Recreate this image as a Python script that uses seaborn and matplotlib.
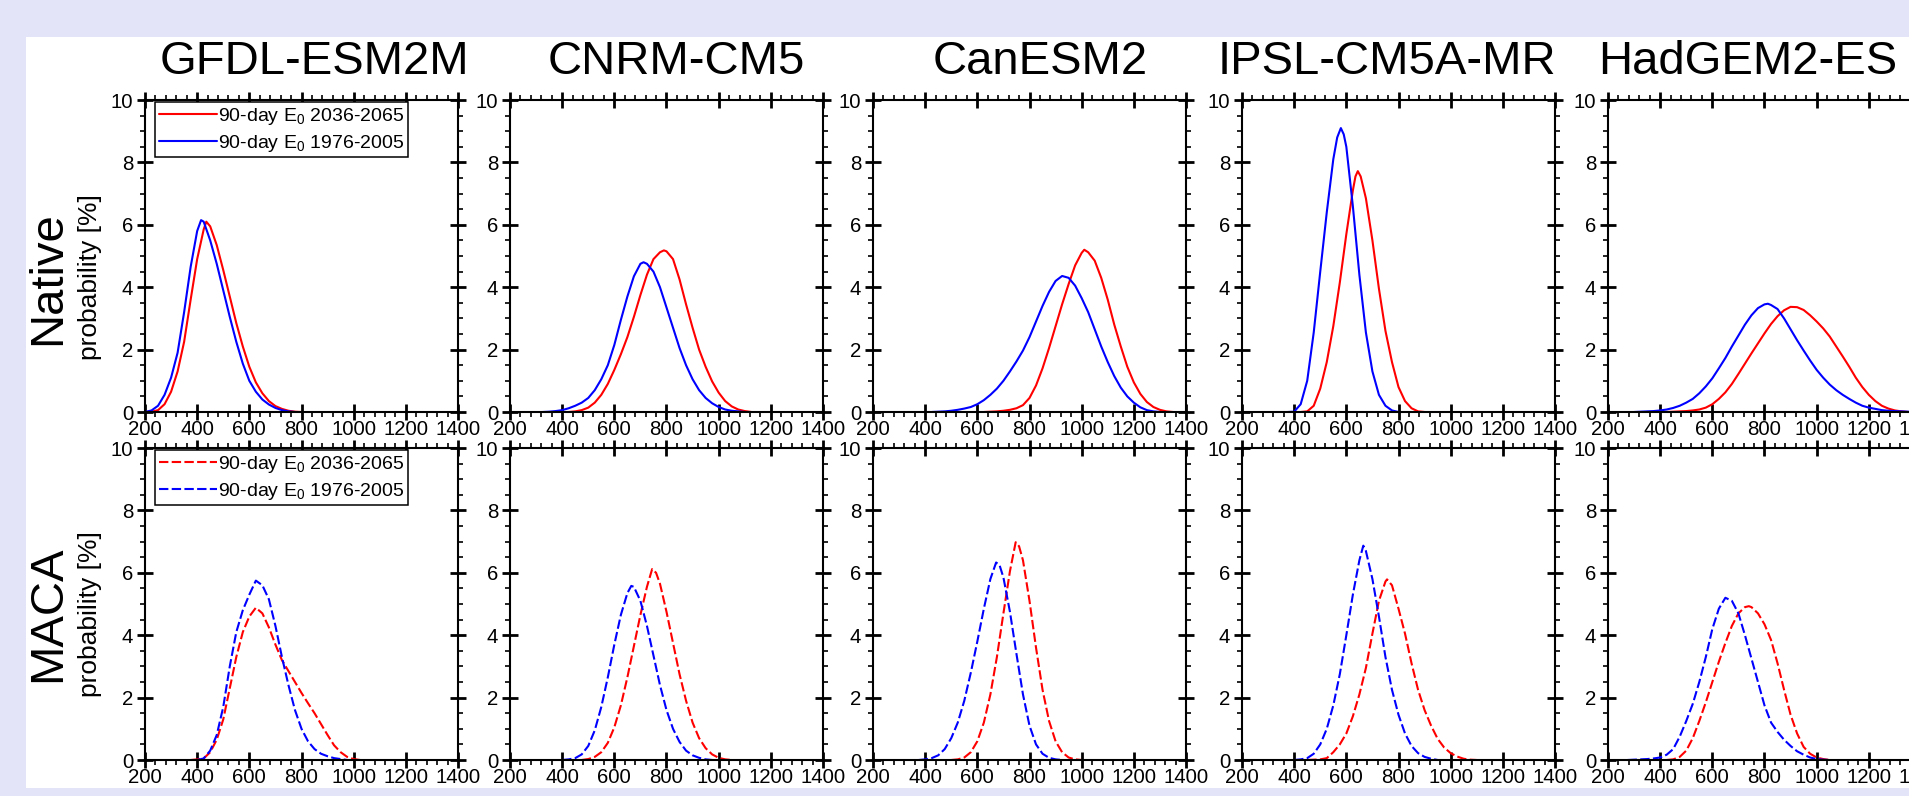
import matplotlib
matplotlib.use("Agg")
import matplotlib.pyplot as plt
from matplotlib.ticker import MultipleLocator
from matplotlib.patches import Rectangle
import pandas as pd
import seaborn as sns

# ---- data (E0 in mm, probability in %) ----
models = ["GFDL-ESM2M", "CNRM-CM5", "CanESM2", "IPSL-CM5A-MR", "HadGEM2-ES"]
rows = ["Native", "MACA"]
periods = ["2036-2065", "1976-2005"]

# GFDL-ESM2M
gfdl_nat_fut_x = [200, 225, 250, 275, 300, 325, 350, 375, 400, 425, 435, 450, 475, 500, 525, 550, 575, 600, 625, 650, 675, 700, 725, 750, 775, 800]
gfdl_nat_fut_y = [0.0, 0.01, 0.06, 0.25, 0.65, 1.3, 2.25, 3.6, 4.9, 5.85, 6.1, 5.95, 5.35, 4.55, 3.7, 2.85, 2.1, 1.45, 0.95, 0.6, 0.35, 0.19, 0.1, 0.04, 0.01, 0.0]
gfdl_nat_hist_x = [200, 225, 250, 275, 300, 325, 350, 375, 400, 415, 425, 450, 475, 500, 525, 550, 575, 600, 625, 650, 675, 700, 725, 750, 775]
gfdl_nat_hist_y = [0.0, 0.05, 0.2, 0.55, 1.1, 1.9, 3.2, 4.65, 5.8, 6.15, 6.1, 5.5, 4.75, 3.9, 3.05, 2.25, 1.55, 1.0, 0.65, 0.4, 0.24, 0.13, 0.06, 0.02, 0.0]
gfdl_maca_fut_x = [375, 400, 425, 450, 475, 500, 525, 550, 575, 600, 625, 650, 675, 700, 725, 750, 775, 800, 825, 850, 875, 900, 925, 950, 975, 1000, 1025]
gfdl_maca_fut_y = [0.0, 0.02, 0.05, 0.25, 0.65, 1.3, 2.3, 3.3, 4.1, 4.6, 4.88, 4.7, 4.25, 3.7, 3.2, 2.85, 2.5, 2.15, 1.82, 1.5, 1.15, 0.8, 0.47, 0.25, 0.1, 0.03, 0.0]
gfdl_maca_hist_x = [400, 425, 450, 475, 500, 525, 550, 575, 600, 625, 650, 675, 700, 725, 750, 775, 800, 825, 850, 875, 900, 925, 950, 975]
gfdl_maca_hist_y = [0.0, 0.05, 0.3, 0.8, 1.7, 3.0, 4.1, 4.8, 5.3, 5.75, 5.6, 5.15, 4.3, 3.3, 2.4, 1.6, 1.0, 0.6, 0.35, 0.2, 0.12, 0.06, 0.03, 0.0]

# CNRM-CM5
cnrm_nat_fut_x = [425, 450, 475, 500, 525, 550, 575, 600, 625, 650, 675, 700, 725, 750, 775, 790, 800, 825, 850, 875, 900, 925, 950, 975, 1000, 1025, 1050, 1075, 1100, 1125]
cnrm_nat_fut_y = [0.0, 0.02, 0.06, 0.14, 0.3, 0.55, 0.9, 1.35, 1.85, 2.4, 3.05, 3.75, 4.4, 4.9, 5.12, 5.18, 5.15, 4.9, 4.25, 3.45, 2.7, 2.0, 1.45, 0.98, 0.62, 0.35, 0.18, 0.08, 0.03, 0.0]
cnrm_nat_hist_x = [325, 350, 375, 400, 425, 450, 475, 500, 525, 550, 575, 600, 625, 650, 675, 700, 712, 725, 750, 775, 800, 825, 850, 875, 900, 925, 950, 975, 1000, 1025, 1050, 1075, 1100]
cnrm_nat_hist_y = [0.0, 0.01, 0.03, 0.06, 0.12, 0.2, 0.3, 0.45, 0.7, 1.05, 1.5, 2.15, 2.95, 3.7, 4.35, 4.75, 4.8, 4.75, 4.5, 4.0, 3.35, 2.7, 2.05, 1.5, 1.05, 0.7, 0.45, 0.28, 0.16, 0.08, 0.04, 0.02, 0.0]
cnrm_maca_fut_x = [475, 500, 525, 550, 575, 600, 625, 650, 675, 700, 725, 745, 760, 775, 800, 825, 850, 875, 900, 925, 950, 975, 1000, 1025, 1050]
cnrm_maca_fut_y = [0.0, 0.03, 0.1, 0.25, 0.55, 1.05, 1.75, 2.65, 3.65, 4.65, 5.55, 6.12, 6.0, 5.65, 4.75, 3.75, 2.75, 1.9, 1.2, 0.7, 0.38, 0.18, 0.07, 0.02, 0.0]
cnrm_maca_hist_x = [400, 425, 450, 475, 500, 525, 550, 575, 600, 625, 650, 665, 675, 700, 725, 750, 775, 800, 825, 850, 875, 900, 925, 950, 975]
cnrm_maca_hist_y = [0.0, 0.02, 0.06, 0.18, 0.45, 0.95, 1.7, 2.65, 3.7, 4.65, 5.35, 5.58, 5.55, 5.1, 4.3, 3.35, 2.4, 1.6, 1.0, 0.58, 0.3, 0.15, 0.07, 0.02, 0.0]

# CanESM2
can_nat_fut_x = [625, 650, 675, 700, 725, 750, 775, 800, 825, 850, 875, 900, 925, 950, 975, 1000, 1010, 1025, 1050, 1075, 1100, 1125, 1150, 1175, 1200, 1225, 1250, 1275, 1300, 1325, 1350]
can_nat_fut_y = [0.0, 0.01, 0.02, 0.04, 0.07, 0.12, 0.22, 0.45, 0.85, 1.4, 2.05, 2.75, 3.45, 4.1, 4.7, 5.1, 5.2, 5.12, 4.85, 4.3, 3.6, 2.8, 2.1, 1.45, 0.95, 0.58, 0.32, 0.16, 0.07, 0.02, 0.0]
can_nat_hist_x = [425, 450, 475, 500, 525, 550, 575, 600, 625, 650, 675, 700, 725, 750, 775, 800, 825, 850, 875, 900, 925, 950, 975, 1000, 1025, 1050, 1075, 1100, 1125, 1150, 1175, 1200, 1225, 1250, 1275, 1300]
can_nat_hist_y = [0.0, 0.01, 0.02, 0.04, 0.07, 0.11, 0.16, 0.25, 0.38, 0.55, 0.75, 1.0, 1.3, 1.62, 1.97, 2.4, 2.9, 3.4, 3.85, 4.2, 4.36, 4.3, 4.05, 3.65, 3.2, 2.65, 2.1, 1.6, 1.15, 0.78, 0.5, 0.3, 0.15, 0.06, 0.02, 0.0]
can_maca_fut_x = [500, 525, 550, 575, 600, 625, 650, 675, 700, 725, 747, 760, 775, 800, 825, 850, 875, 900, 925, 950, 975, 1000]
can_maca_fut_y = [0.0, 0.02, 0.08, 0.25, 0.6, 1.2, 2.1, 3.3, 4.7, 6.05, 6.98, 6.85, 6.4, 5.1, 3.6, 2.25, 1.25, 0.6, 0.25, 0.08, 0.02, 0.0]
can_maca_hist_x = [375, 400, 425, 450, 475, 500, 525, 550, 575, 600, 625, 650, 672, 685, 700, 725, 750, 775, 800, 825, 850, 875, 900, 925]
can_maca_hist_y = [0.0, 0.02, 0.06, 0.15, 0.35, 0.7, 1.2, 1.9, 2.8, 3.8, 4.85, 5.8, 6.33, 6.25, 5.85, 4.75, 3.4, 2.1, 1.1, 0.5, 0.2, 0.07, 0.02, 0.0]

# IPSL-CM5A-MR
ipsl_nat_fut_x = [425, 450, 475, 500, 525, 550, 575, 600, 625, 635, 644, 655, 675, 700, 725, 750, 775, 800, 825, 850, 875, 900]
ipsl_nat_fut_y = [0.0, 0.02, 0.2, 0.75, 1.6, 2.75, 4.15, 5.7, 7.1, 7.55, 7.72, 7.55, 6.85, 5.5, 3.95, 2.6, 1.6, 0.8, 0.35, 0.12, 0.02, 0.0]
ipsl_nat_hist_x = [375, 400, 425, 450, 475, 500, 525, 550, 565, 579, 590, 600, 625, 650, 675, 700, 725, 750, 775, 800]
ipsl_nat_hist_y = [0.0, 0.01, 0.25, 1.0, 2.55, 4.5, 6.4, 8.1, 8.8, 9.1, 8.9, 8.5, 6.6, 4.4, 2.55, 1.3, 0.55, 0.2, 0.05, 0.0]
ipsl_maca_fut_x = [450, 475, 500, 525, 550, 575, 600, 625, 650, 675, 700, 725, 750, 756, 775, 800, 825, 850, 875, 900, 925, 950, 975, 1000, 1025, 1050, 1075, 1100]
ipsl_maca_fut_y = [0.0, 0.01, 0.02, 0.06, 0.25, 0.5, 0.85, 1.4, 2.1, 2.95, 4.05, 5.1, 5.72, 5.79, 5.6, 4.85, 4.05, 3.1, 2.25, 1.6, 1.1, 0.68, 0.4, 0.22, 0.11, 0.04, 0.01, 0.0]
ipsl_maca_hist_x = [400, 425, 450, 475, 500, 525, 550, 575, 600, 625, 650, 665, 675, 700, 725, 750, 775, 800, 825, 850, 875, 900, 925, 950]
ipsl_maca_hist_y = [0.0, 0.02, 0.06, 0.2, 0.5, 1.0, 1.75, 2.75, 4.0, 5.3, 6.4, 6.87, 6.7, 5.8, 4.6, 3.3, 2.25, 1.45, 0.85, 0.45, 0.22, 0.1, 0.04, 0.0]

# HadGEM2-ES
had_nat_fut_x = [425, 450, 475, 500, 525, 550, 575, 600, 625, 650, 675, 700, 725, 750, 775, 800, 825, 850, 875, 900, 925, 950, 975, 1000, 1025, 1050, 1075, 1100, 1125, 1150, 1175, 1200, 1225, 1250, 1275, 1300, 1325, 1350]
had_nat_fut_y = [0.0, 0.01, 0.02, 0.03, 0.05, 0.08, 0.14, 0.25, 0.42, 0.63, 0.9, 1.22, 1.55, 1.88, 2.2, 2.52, 2.82, 3.07, 3.26, 3.37, 3.36, 3.27, 3.1, 2.9, 2.68, 2.42, 2.1, 1.78, 1.45, 1.1, 0.8, 0.55, 0.35, 0.2, 0.11, 0.05, 0.02, 0.0]
had_nat_hist_x = [300, 325, 350, 375, 400, 425, 450, 475, 500, 525, 550, 575, 600, 625, 650, 675, 700, 725, 750, 775, 800, 813, 825, 850, 875, 900, 925, 950, 975, 1000, 1025, 1050, 1075, 1100, 1125, 1150, 1175, 1200, 1225, 1250, 1275, 1300, 1325, 1350, 1375]
had_nat_hist_y = [0.0, 0.01, 0.02, 0.03, 0.05, 0.08, 0.13, 0.2, 0.3, 0.42, 0.6, 0.82, 1.08, 1.4, 1.73, 2.1, 2.45, 2.8, 3.1, 3.33, 3.45, 3.47, 3.43, 3.3, 3.0, 2.65, 2.3, 1.97, 1.65, 1.35, 1.1, 0.88, 0.7, 0.55, 0.42, 0.3, 0.2, 0.14, 0.1, 0.06, 0.04, 0.03, 0.02, 0.01, 0.0]
had_maca_fut_x = [425, 450, 475, 500, 525, 550, 575, 600, 625, 650, 675, 700, 725, 740, 750, 775, 800, 825, 850, 875, 900, 925, 950, 975, 1000, 1025, 1050]
had_maca_fut_y = [0.0, 0.02, 0.1, 0.3, 0.7, 1.25, 1.85, 2.5, 3.15, 3.75, 4.3, 4.7, 4.9, 4.93, 4.9, 4.7, 4.35, 3.85, 3.1, 2.25, 1.45, 0.85, 0.42, 0.2, 0.08, 0.03, 0.0]
had_maca_hist_x = [275, 300, 325, 350, 375, 400, 425, 450, 475, 500, 525, 550, 575, 600, 625, 650, 675, 700, 725, 750, 775, 800, 825, 850, 875, 900, 925, 950, 975, 1000, 1025, 1050]
had_maca_hist_y = [0.0, 0.01, 0.02, 0.03, 0.05, 0.08, 0.17, 0.35, 0.75, 1.25, 1.8, 2.5, 3.3, 4.2, 4.85, 5.2, 5.1, 4.7, 4.0, 3.25, 2.5, 1.75, 1.2, 0.9, 0.65, 0.45, 0.28, 0.17, 0.08, 0.03, 0.01, 0.0]

curves = {
    ("GFDL-ESM2M", "Native"): [(gfdl_nat_fut_x, gfdl_nat_fut_y), (gfdl_nat_hist_x, gfdl_nat_hist_y)],
    ("GFDL-ESM2M", "MACA"): [(gfdl_maca_fut_x, gfdl_maca_fut_y), (gfdl_maca_hist_x, gfdl_maca_hist_y)],
    ("CNRM-CM5", "Native"): [(cnrm_nat_fut_x, cnrm_nat_fut_y), (cnrm_nat_hist_x, cnrm_nat_hist_y)],
    ("CNRM-CM5", "MACA"): [(cnrm_maca_fut_x, cnrm_maca_fut_y), (cnrm_maca_hist_x, cnrm_maca_hist_y)],
    ("CanESM2", "Native"): [(can_nat_fut_x, can_nat_fut_y), (can_nat_hist_x, can_nat_hist_y)],
    ("CanESM2", "MACA"): [(can_maca_fut_x, can_maca_fut_y), (can_maca_hist_x, can_maca_hist_y)],
    ("IPSL-CM5A-MR", "Native"): [(ipsl_nat_fut_x, ipsl_nat_fut_y), (ipsl_nat_hist_x, ipsl_nat_hist_y)],
    ("IPSL-CM5A-MR", "MACA"): [(ipsl_maca_fut_x, ipsl_maca_fut_y), (ipsl_maca_hist_x, ipsl_maca_hist_y)],
    ("HadGEM2-ES", "Native"): [(had_nat_fut_x, had_nat_fut_y), (had_nat_hist_x, had_nat_hist_y)],
    ("HadGEM2-ES", "MACA"): [(had_maca_fut_x, had_maca_fut_y), (had_maca_hist_x, had_maca_hist_y)],
}

frames = []
for (model, row), pair in curves.items():
    for period, (xs, ys) in zip(periods, pair):
        frames.append(pd.DataFrame({"model": model, "row": row, "period": period, "E0": xs, "prob": ys}))
df = pd.concat(frames, ignore_index=True)

# ---- style ----
sns.set_style("ticks")
plt.rcParams["font.family"] = ["Liberation Sans", "DejaVu Sans"]
plt.rcParams["text.color"] = "black"
plt.rcParams["xtick.color"] = "black"
plt.rcParams["ytick.color"] = "black"
plt.rcParams["mathtext.fontset"] = "custom"
plt.rcParams["mathtext.rm"] = "Liberation Sans"
plt.rcParams["mathtext.it"] = "Liberation Sans:italic"

W, H = 1909, 796
fig = plt.figure(figsize=(W / 100, H / 100), dpi=100, facecolor="#e3e4f7")
fig.patches.append(Rectangle((26 / W, 1 - 788 / H), 1, (788 - 37) / H,
                             transform=fig.transFigure, facecolor="white",
                             edgecolor="none", zorder=-10))

lefts = [145, 510, 873, 1242, 1608]
title_x = [314, 676, 1040, 1387, 1748]
tops = [100, 448]
pw, ph = 313, 312
palette = {"2036-2065": "#ff0000", "1976-2005": "#0000ff"}

for r, row in enumerate(rows):
    for m, model in enumerate(models):
        ax = fig.add_axes([lefts[m] / W, 1 - (tops[r] + ph) / H, pw / W, ph / H])
        sub = df[(df.model == model) & (df.row == row)]
        ls = "-" if row == "Native" else (0, (4.5, 1.6))
        sns.lineplot(data=sub, x="E0", y="prob", hue="period", hue_order=periods,
                     palette=palette, ax=ax, legend=False, errorbar=None,
                     linewidth=1.5, linestyle=ls)
        ax.set_xlim(200, 1400)
        ax.set_ylim(0, 10)
        ax.xaxis.set_major_locator(MultipleLocator(200))
        ax.xaxis.set_minor_locator(MultipleLocator(40))
        ax.yaxis.set_major_locator(MultipleLocator(2))
        ax.yaxis.set_minor_locator(MultipleLocator(0.5))
        ax.tick_params(which="major", direction="inout", length=11, width=2.0,
                       top=True, right=True, labelsize=14.7, colors="black")
        ax.tick_params(which="minor", direction="out", length=3.8, width=1.2,
                       top=True, right=True, colors="black")
        ax.tick_params(axis="x", which="major", pad=0.5)
        ax.tick_params(axis="y", which="major", pad=3)
        for sp in ax.spines.values():
            sp.set_linewidth(1.5)
            sp.set_color("black")
        ax.set_xlabel("")
        ax.set_ylabel("")
        ax.set_facecolor("white")

        if m == 0:
            lines = ax.get_lines()[:2]
            leg = ax.legend(lines, ["90-day E$_\\mathregular{0}$ " + p for p in periods],
                            loc="upper left", bbox_to_anchor=(0.032, 0.994), borderaxespad=0,
                            fontsize=14, handlelength=3.0, handletextpad=0.05,
                            borderpad=0.2, labelspacing=0.3, fancybox=False,
                            framealpha=1, edgecolor="black")
            leg.get_frame().set_linewidth(1.1)

        if r == 0:
            fig.text(title_x[m] / W, 1 - 74 / H, model,
                     ha="center", va="baseline", fontsize=34)

# row labels
fig.text(48 / W, 1 - 278 / H, "Native", rotation=90, ha="center", va="center", fontsize=34)
fig.text(90 / W, 1 - 277 / H, "probability [%]", rotation=90, ha="center", va="center", fontsize=19)
fig.text(48 / W, 1 - 614 / H, "MACA", rotation=90, ha="center", va="center", fontsize=34)
fig.text(90 / W, 1 - 614 / H, "probability [%]", rotation=90, ha="center", va="center", fontsize=19)

fig.savefig("out.png", dpi=100, facecolor=fig.get_facecolor())
